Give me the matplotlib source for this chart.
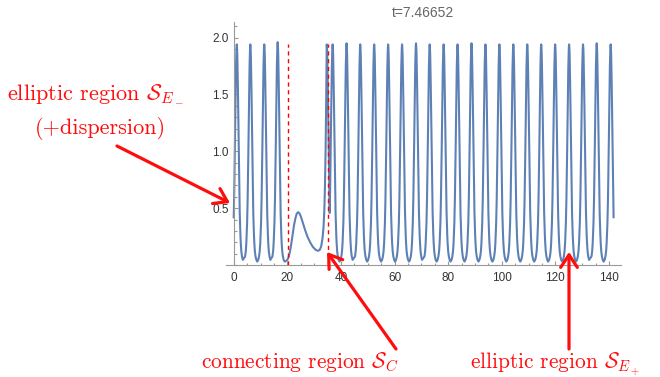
import numpy as np
import matplotlib
matplotlib.use("Agg")
import matplotlib.pyplot as plt
from matplotlib.ticker import MultipleLocator, FixedLocator

# ---------------- data ----------------
title_text = "t=7.46652"
x_ticks = [0, 20, 40, 60, 80, 100, 120, 140]
y_ticks = [0.5, 1.0, 1.5, 2.0]
y_tick_labels = ["0.5", "1.0", "1.5", "2.0"]

# start point of the curve (on the rising edge of the first peak)
start_x, start_y = 0.0, 0.42

# peaks of the left periodic train (elliptic region S_E-)
peaks_a_x = [1.15, 6.2, 11.4, 16.4]
peaks_a_y = [1.94, 1.94, 1.94, 1.96]

# connecting region (bump and slow minimum)
conn_x = [19.5, 20.0, 20.5, 21.0, 21.5, 22.0, 22.5, 23.0, 23.5, 24.0, 24.5,
          25.0, 25.8, 26.6, 27.5, 28.5, 29.5, 30.5, 31.3, 32.0, 32.6, 33.1,
          33.5, 33.8, 34.05, 34.3, 34.5]
conn_y = [0.035, 0.045, 0.07, 0.12, 0.19, 0.27, 0.35, 0.41, 0.45, 0.465, 0.455,
          0.43, 0.37, 0.31, 0.25, 0.20, 0.16, 0.135, 0.125, 0.13, 0.16, 0.23,
          0.33, 0.48, 0.7, 1.05, 1.45]

# isolated peak at the end of the connecting region
peak_c_x, peak_c_y = 34.7, 1.94

# peaks of the right periodic train (elliptic region S_E+)
peaks_b_x = [36.9, 42.1, 47.2, 52.4, 57.6, 62.8, 68.0, 73.1, 78.3, 83.5, 88.7,
             93.9, 99.1, 104.3, 109.5, 114.7, 119.9, 125.1, 130.3, 135.4, 140.6]
peaks_b_y = [1.94, 1.95, 1.94, 1.94, 1.94, 1.94, 1.95, 1.94, 1.94, 1.94, 1.95,
             1.94, 1.94, 1.94, 1.94, 1.94, 1.94, 1.94, 1.94, 1.95, 1.94]
trough_level = 0.03

# end point of the curve
end_x, end_y = 141.7, 0.42

# shape of one half oscillation (distance from peak, value)
prof_d = [0.0, 0.1, 0.2, 0.3, 0.4, 0.5, 0.6, 0.7, 0.8, 0.9, 1.0, 1.1, 1.2,
          1.35, 1.5, 1.7, 1.95, 2.25, 2.59]
prof_y = [1.95, 1.92, 1.85, 1.74, 1.59, 1.42, 1.23, 1.05, 0.88, 0.72, 0.58,
          0.46, 0.37, 0.27, 0.19, 0.12, 0.075, 0.045, 0.03]

# dashed separators
sep_x = [20.4, 35.3]
sep_top = 1.94

# ---------------- building the curve from the read values ----------------
pd_ = np.array(prof_d)
pf_ = (np.array(prof_y) - prof_y[-1]) / (prof_y[0] - prof_y[-1])


def side(xp, yp, direction, dmax, yt=trough_level):
    m = pd_ <= dmax + 1e-9
    return xp + direction * pd_[m], yt + pf_[m] * (yp - yt)


xs, ys = [start_x], [start_y]


def add(xa, ya):
    xs.extend(list(xa))
    ys.extend(list(ya))


def train(px, py):
    for i in range(len(px) - 1):
        half = (px[i + 1] - px[i]) / 2
        xa, ya = side(px[i], py[i], +1, half)
        add(xa, ya)
        xb, yb = side(px[i + 1], py[i + 1], -1, half)
        add(xb[::-1][1:], yb[::-1][1:])


xa, ya = side(peaks_a_x[0], peaks_a_y[0], -1, peaks_a_x[0] - start_x - 0.05)
add(xa[::-1][:-1], ya[::-1][:-1])
train(peaks_a_x, peaks_a_y)
xa, ya = side(peaks_a_x[-1], peaks_a_y[-1], +1, 2.59)
add(xa[1:], ya[1:])
add(conn_x, conn_y)
xs.append(peak_c_x)
ys.append(peak_c_y)
train([peak_c_x, peaks_b_x[0]], [peak_c_y, peaks_b_y[0]])
train(peaks_b_x, peaks_b_y)
xa, ya = side(peaks_b_x[-1], peaks_b_y[-1], +1, end_x - peaks_b_x[-1] - 0.05)
add(xa[1:], ya[1:])
xs.append(end_x)
ys.append(end_y)

# ---------------- figure ----------------
plt.rcParams['mathtext.fontset'] = 'cm'
W, H = 660, 377
fig = plt.figure(figsize=(W / 100, H / 100), dpi=100)
x0px, sx = 233.7, 2.681
y0px, sy = 265.0, 113.7
left_px, right_px, top_px = 226, 621, 22
ax = fig.add_axes([left_px / W, (H - y0px) / H, (right_px - left_px) / W,
                   (y0px - top_px) / H])
ax.set_xlim((left_px - x0px) / sx, (right_px - x0px) / sx)
ax.set_ylim(0, (y0px - top_px) / sy)

ax.plot(xs, ys, color='#5e81b5', lw=1.5, solid_joinstyle='round')
for sx_ in sep_x:
    ax.plot([sx_, sx_], [0, sep_top], color='red', lw=1.0,
            linestyle=(0, (3, 2.6)))

axis_col = '#999999'
for s in ['top', 'right']:
    ax.spines[s].set_visible(False)
ax.spines['left'].set_position(('data', 0))
ax.spines['left'].set_bounds(0, (y0px - top_px) / sy)
for s in ['left', 'bottom']:
    ax.spines[s].set_color(axis_col)
    ax.spines[s].set_linewidth(0.8)

ax.xaxis.set_major_locator(FixedLocator(x_ticks))
ax.xaxis.set_minor_locator(MultipleLocator(5))
ax.yaxis.set_major_locator(FixedLocator(y_ticks))
ax.set_yticklabels(y_tick_labels)
ax.yaxis.set_minor_locator(MultipleLocator(0.1))
ax.tick_params(which='both', direction='in', color=axis_col, width=0.8)
ax.tick_params(which='major', length=3.2)
ax.tick_params(which='minor', length=1.8)
ax.tick_params(axis='x', which='major', pad=5, labelsize=8.5,
               labelcolor='#333333')
ax.tick_params(axis='y', which='major', pad=3.5, labelsize=8.5,
               labelcolor='#333333')
for lab in ax.get_xticklabels() + ax.get_yticklabels():
    lab.set_fontfamily('Liberation Sans')

fig.text(423 / W, (H - 13) / H, title_text, ha='center', va='center',
         fontsize=10, color='#666666', family='Liberation Sans')

red = '#ff0d0d'
tkw = dict(color=red, fontsize=16, family='cmr10', ha='left', va='baseline')
fig.text(7 / W, (H - 98) / H, r"elliptic region $\mathcal{S}_{E_-}$", **tkw)
fig.text(35 / W, (H - 133.5) / H, "(+dispersion)", **tkw)
bkw = dict(tkw, fontsize=15.4)
fig.text(201 / W, (H - 368.5) / H, r"connecting region $\mathcal{S}_C$", **bkw)
fig.text(470 / W, (H - 368.5) / H, r"elliptic region $\mathcal{S}_{E_+}$", **bkw)

arrows = [((117, 146), (230, 203)), ((396, 349), (327, 252)),
          ((569, 349), (569, 252))]
for (tx, ty), (hx, hy) in arrows:
    ax.annotate('', xy=(hx, H - hy), xytext=(tx, H - ty),
                xycoords='figure pixels', textcoords='figure pixels',
                annotation_clip=False,
                arrowprops=dict(arrowstyle='->,head_length=0.45,head_width=0.3',
                                color=red, lw=2.3, shrinkA=0, shrinkB=0,
                                mutation_scale=20))

fig.savefig('out.png', dpi=100)
